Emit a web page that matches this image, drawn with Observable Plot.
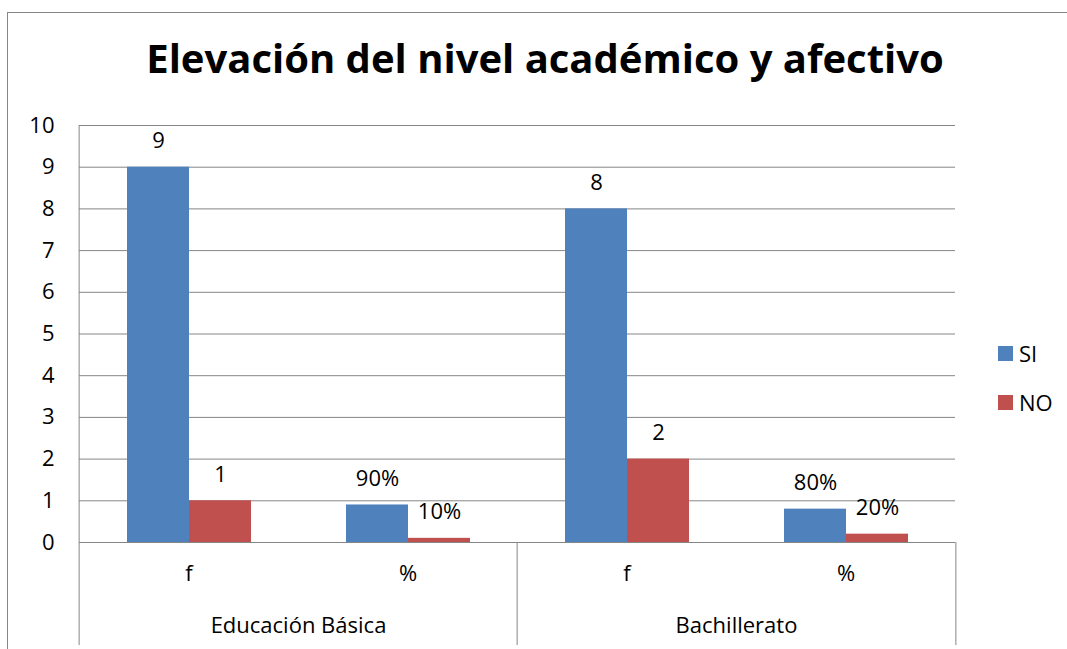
<!DOCTYPE html>
<html>
<head>
<meta charset="utf-8">
<script src="https://cdn.jsdelivr.net/npm/d3@7"></script>
<script src="https://cdn.jsdelivr.net/npm/@observablehq/plot@0.6"></script>
<style>
  html, body { margin: 0; padding: 0; background: #fff; }
  body { width: 1067px; height: 649px; position: relative; overflow: hidden; font-family: "Open Sans", Lato, sans-serif; color: #000; }
  #frame { position: absolute; left: 7px; top: 12px; width: 1200px; height: 800px; border-left: 1px solid #868686; border-top: 1px solid #868686; box-sizing: border-box; }
  #title { position: absolute; left: 0; top: 37px; width: 1090px; text-align: center; font-weight: bold; font-size: 40px; line-height: 42px; white-space: nowrap; }
  #chart { position: absolute; left: 0; top: 100px; }
  #legend { position: absolute; left: 998px; top: 340px; font-size: 22px; }
  .item { display: flex; align-items: center; height: 26px; margin-bottom: 23px; }
  .sw { width: 15px; height: 15px; margin-right: 6px; }
</style>
</head>
<body>
<div id="frame"></div>
<div id="title"></div>
<div id="chart"></div>
<div id="legend"></div>
<script>
// ---- data ----
const title = "Elevación del nivel académico y afectivo";
const groups = ["Educación Básica", "Educación Básica", "Bachillerato", "Bachillerato"];
const measures = ["f", "%", "f", "%"];
const series = ["SI", "NO"];
const siValues = [9, 0.9, 8, 0.8];
const noValues = [1, 0.1, 2, 0.2];
const siLabels = ["9", "90%", "8", "80%"];
const noLabels = ["1", "10%", "2", "20%"];
const yTicks = [0, 1, 2, 3, 4, 5, 6, 7, 8, 9, 10];
const colors = ["#4F81BD", "#C0504D"];

// ---- build table ----
const cats = groups.map((g, i) => g + "|" + measures[i]);
const rows = [];
cats.forEach((c, i) => {
  rows.push({cat: c, series: "SI", value: siValues[i], label: siLabels[i]});
  rows.push({cat: c, series: "NO", value: noValues[i], label: noLabels[i]});
});
const groupFirst = cats.filter((c, i) => i === 0 || groups[i] !== groups[i - 1]);
const lastCat = cats[cats.length - 1];

document.getElementById("title").textContent = title;

const W = 1067, H = 549, mL = 77, mR = 111, mT = 25, mB = 107;
const bw = (W - mL - mR) / cats.length;
const grid = "#868686";

const chart = Plot.plot({
  width: W,
  height: H,
  marginTop: mT,
  marginBottom: mB,
  marginLeft: mL,
  marginRight: mR,
  style: {fontFamily: "'Open Sans', Lato, sans-serif", fontSize: "22px", color: "#000", background: "transparent", overflow: "visible"},
  fx: {domain: cats, padding: 0, axis: null, label: null},
  x: {domain: series, paddingInner: 0, paddingOuter: 0.75, axis: null, label: null},
  y: {domain: [0, 10], ticks: yTicks, tickSize: 0, tickPadding: 25, label: null, tickFormat: d => String(d)},
  color: {domain: series, range: colors},
  marks: [
    Plot.ruleY(yTicks.filter(d => d > 0), {stroke: grid, strokeWidth: 1}),
    Plot.barY(rows, {fx: "cat", x: "series", y: "value", fill: "series"}),
    Plot.text(rows, {fx: "cat", x: "series", y: "value", text: "label", dy: -26, fill: "#000"}),
    Plot.ruleY([0], {stroke: grid, strokeWidth: 1}),
    // first-level category labels (f / %)
    Plot.text(cats, {fx: d => d, text: d => d.split("|")[1], frameAnchor: "bottom", dy: 38, fill: "#000"}),
    // second-level group labels
    Plot.text(groupFirst, {fx: d => d, text: d => d.split("|")[0], frameAnchor: "bottom-right", textAnchor: "middle", dy: 90, fill: "#000"}),
    // left axis line (full height down to the group row)
    Plot.ruleX([cats[0]], {fx: d => d, x: null, dx: -bw / 2, insetBottom: -103, stroke: grid}),
    // group separators below the baseline
    Plot.ruleX(groupFirst.slice(1), {fx: d => d, x: null, dx: -bw / 2, y1: 0, y2: 0, insetBottom: -103, stroke: grid}),
    Plot.ruleX([lastCat], {fx: d => d, x: null, dx: bw / 2, y1: 0, y2: 0, insetBottom: -103, stroke: grid})
  ]
});
document.getElementById("chart").appendChild(chart);

// legend
const leg = document.getElementById("legend");
series.forEach((s, i) => {
  const it = document.createElement("div");
  it.className = "item";
  const sw = document.createElement("div");
  sw.className = "sw";
  sw.style.background = colors[i];
  const t = document.createElement("span");
  t.textContent = s;
  it.appendChild(sw);
  it.appendChild(t);
  leg.appendChild(it);
});
</script>
</body>
</html>
